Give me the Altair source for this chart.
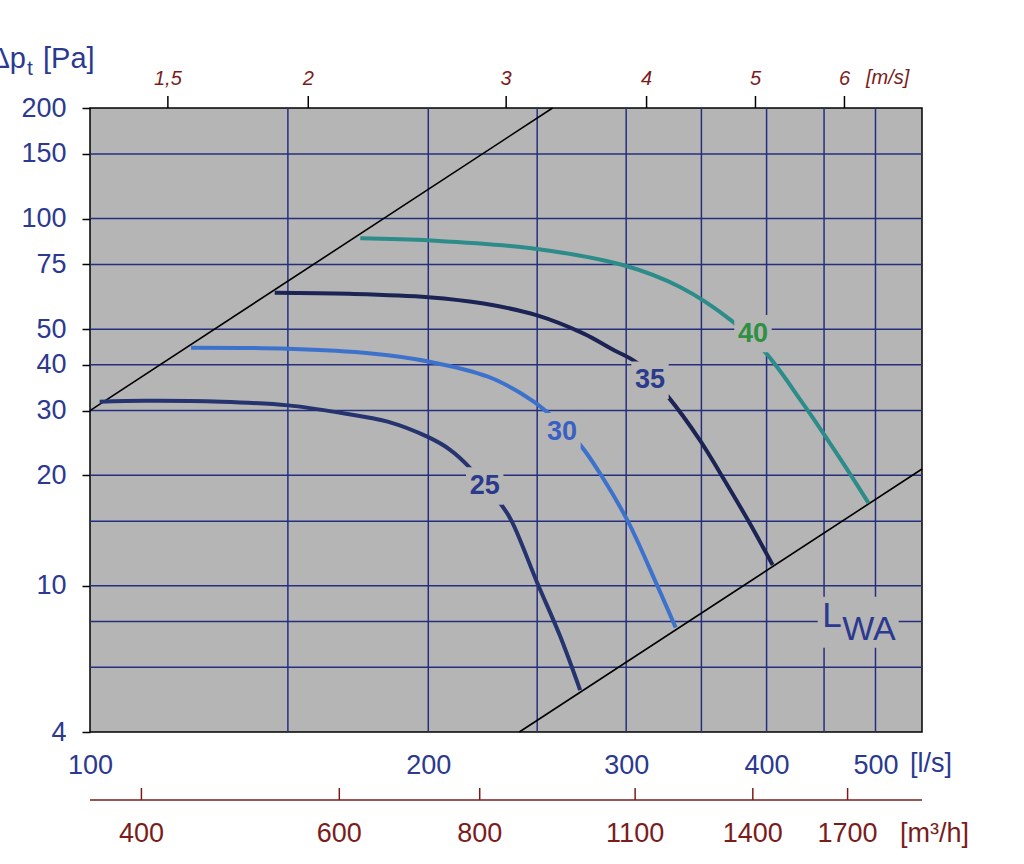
import altair as alt
import pandas as pd

# ---------------- data ----------------
K = 78.2  # l/s per m/s (duct velocity scale)

ls_ticks = [100, 200, 300, 400, 500]
pa_ticks = [4, 10, 20, 30, 40, 50, 75, 100, 150, 200]
grid_x = [150, 200, 250, 300, 350, 400, 450, 500]
grid_y = [6, 8, 10, 15, 20, 30, 40, 50, 75, 100, 150]
speeds = [1.5, 2, 3, 4, 5, 6]
speed_labels = ["1,5", "2", "3", "4", "5", "6"]
m3h = [400, 600, 800, 1100, 1400, 1700]

# limit lines (Q in l/s, dp in Pa)
upper_q = [100, 258]
upper_p = [30, 200]
lower_q = [241, 550]
lower_p = [4, 20.8]

# sound power curves L_WA
q25 = [102, 112, 131, 150, 167, 184, 200, 209, 218, 224, 231, 237, 250, 262, 273]
p25 = [31.7, 31.9, 31.7, 31.0, 29.6, 28.0, 25.4, 23.5, 20.9, 18.8, 17.0, 15.1, 10.2, 7.3, 5.2]
q30 = [123, 150, 178, 201, 226, 242, 255, 273, 285, 301, 318, 332]
p30 = [44.5, 44.2, 42.9, 40.7, 37.1, 33.4, 29.8, 24.2, 20.0, 15.0, 10.4, 7.7]
q35 = [146, 170, 200, 224, 250, 275, 291, 307, 327, 349, 364, 385, 405]
p35 = [62.8, 62.4, 61.1, 58.7, 54.5, 48.6, 44.2, 40.4, 32.7, 24.9, 20.2, 15.1, 11.4]
q40 = [174, 201, 247, 299, 335, 372, 399, 429, 466, 493]
p40 = [88.4, 87.2, 83.0, 74.5, 65.1, 52.8, 43.2, 32.0, 22.0, 16.8]

curve_names = ["25", "30", "35", "40"]
label_q = [224.5, 263, 315, 389]
label_p = [18.7, 26.3, 36.3, 48.6]

lwa_q = [482.6]
lwa_p = [7.96]

# ---------------- styles ----------------
GRAY = "#b5b5b5"
NAVY = "#262f7d"
TXT = "#2b3990"
RED = "#7b1c1c"
FONT = "Liberation Sans"
line_colors = ["#25336f", "#3d72cc", "#1c2455", "#2b8c8a"]
text_colors = ["#2a3a8c", "#3a60c4", "#2a3a8c", "#2e9040"]

x_scale = alt.Scale(type="log", domain=[100, 550], nice=False)
y_scale = alt.Scale(type="log", domain=[4, 200], nice=False)

# ---------------- tables ----------------
gx_df = pd.DataFrame({"q": grid_x})
gy_df = pd.DataFrame({"p": grid_y})
lim_df = pd.DataFrame({
    "q": upper_q + lower_q,
    "p": upper_p + lower_p,
    "seg": ["u"] * len(upper_q) + ["l"] * len(lower_q),
})
rows = []
for name, qs, ps in [("25", q25, p25), ("30", q30, p30), ("35", q35, p35), ("40", q40, p40)]:
    for i, (q, p) in enumerate(zip(qs, ps)):
        rows.append({"curve": name, "q": q, "p": p, "i": i})
cur_df = pd.DataFrame(rows)
lab_df = pd.DataFrame({"curve": curve_names, "q": label_q, "p": label_p})
spd_df = pd.DataFrame({"v": speeds, "lab": speed_labels})
m3_df = pd.DataFrame({"m": m3h})
one_df = pd.DataFrame({"k": [0]})
lwa_df = pd.DataFrame({"q": lwa_q, "p": lwa_p})

X = lambda f="q:Q", **kw: alt.X(f, scale=x_scale, **kw)
Y = lambda f="p:Q", **kw: alt.Y(f, scale=y_scale, **kw)

LABEL_SIZE = 27

# vertical grid + the main x axis
vgrid = alt.Chart(gx_df).mark_rule(color=NAVY, strokeWidth=1.5).encode(
    x=X(axis=alt.Axis(values=ls_ticks, title=None, ticks=False, domain=False, grid=False,
                      labelFontSize=LABEL_SIZE, labelColor=TXT, labelFont=FONT,
                      labelBaseline="alphabetic", labelPadding=41, labelFlush=False,
                      labelOverlap=False))
)
hgrid = alt.Chart(gy_df).mark_rule(color=NAVY, strokeWidth=1.5).encode(
    y=Y(axis=alt.Axis(values=pa_ticks, title=None, tickSize=8, tickColor="black", tickWidth=1.5,
                      domain=False, grid=False, labelFontSize=LABEL_SIZE, labelColor=TXT,
                      labelFont=FONT, labelPadding=16, labelFlush=False, labelOverlap=False))
)

limits = alt.Chart(lim_df).mark_line(color="black", strokeWidth=1.6).encode(
    x=X(axis=None), y=Y(axis=None), detail="seg:N")

curves = alt.Chart(cur_df).mark_line(strokeWidth=4, interpolate="catmull-rom").encode(
    x=X(axis=None), y=Y(axis=None), order="i:Q",
    color=alt.Color("curve:N", scale=alt.Scale(domain=curve_names, range=line_colors), legend=None))

boxes = alt.Chart(lab_df).mark_square(size=1400, color=GRAY, opacity=1, strokeWidth=0).encode(
    x=X(axis=None), y=Y(axis=None))

labels = alt.Chart(lab_df).mark_text(fontSize=27, fontWeight="bold", font=FONT, baseline="middle").encode(
    x=X(axis=None), y=Y(axis=None), text="curve:N",
    color=alt.Color("curve:N", scale=alt.Scale(domain=curve_names, range=text_colors), legend=None))

# top velocity axis (m/s)
top_ticks = alt.Chart(spd_df).transform_calculate(q=f"datum.v*{K}").mark_rule(
    color="black", strokeWidth=1.5).encode(x=X(axis=None), y=alt.value(-12), y2=alt.value(0))
top_labels = alt.Chart(spd_df).transform_calculate(q=f"datum.v*{K}").mark_text(
    fontSize=20, fontStyle="italic", fontWeight="normal", font=FONT, color=RED,
    baseline="alphabetic").encode(x=X(axis=None), y=alt.value(-23), text="lab:N")

# m3/h axis below
m3_line = alt.Chart(one_df).mark_rule(color=RED, strokeWidth=1.5).encode(
    x=alt.value(0), x2=alt.value(832), y=alt.value(692))
m3_ticks = alt.Chart(m3_df).transform_calculate(q="datum.m/3.6").mark_rule(
    color=RED, strokeWidth=1.5).encode(x=X(axis=None), y=alt.value(680), y2=alt.value(692))
m3_labels = alt.Chart(m3_df).transform_calculate(q="datum.m/3.6").mark_text(
    fontSize=LABEL_SIZE, font=FONT, fontWeight="normal", color=RED, baseline="alphabetic").encode(
    x=X(axis=None), y=alt.value(734), text="m:Q")

def txt(s, x, y, size=LABEL_SIZE, color=TXT, style="normal", align="left"):
    return alt.Chart(one_df).mark_text(text=s, fontSize=size, font=FONT, color=color,
                                       fontStyle=style, fontWeight="normal", align=align,
                                       baseline="alphabetic").encode(
        x=alt.value(x), y=alt.value(y))

units = [
    txt("[l/s]", 820, 664),
    txt("[m³/h]", 810, 734, color=RED),
    txt("[m/s]", 776, -24, size=20, color=RED, style="italic"),
    txt("Δp", -64, -40, size=29, align="right"),
    txt("t", -63, -33, size=21),
    txt("[Pa]", -47, -40, size=29),
]

# L_WA legend label
lwa_box = alt.Chart(lwa_df).mark_point(
    shape="M-1,-0.63L1,-0.63L1,0.63L-1,0.63Z", size=6561, filled=True, fill=GRAY, opacity=1,
    strokeWidth=0).encode(x=X(axis=None), y=Y(axis=None))
lwa_L = alt.Chart(lwa_df).mark_text(text="L", fontSize=35, font=FONT, color=TXT, align="left",
                                    baseline="alphabetic", dx=-36, dy=5).encode(x=X(axis=None), y=Y(axis=None))
lwa_WA = alt.Chart(lwa_df).mark_text(text="WA", fontSize=34, font=FONT, color=TXT, align="left",
                                     baseline="alphabetic", dx=-16, dy=18).encode(x=X(axis=None), y=Y(axis=None))

chart = alt.layer(
    vgrid, hgrid, limits, curves, boxes, labels,
    top_ticks, top_labels, m3_line, m3_ticks, m3_labels,
    *units, lwa_box, lwa_L, lwa_WA,
).resolve_scale(color="independent").resolve_axis(x="independent", y="independent").properties(
    width=832, height=624,
    autosize=alt.AutoSizeParams(type="none"),
    padding={"left": 90, "top": 108, "right": 102, "bottom": 132},
    background="white",
).configure_view(fill=GRAY, stroke="black", strokeWidth=1.5)

chart.save("out.html", embed_options={"renderer": "svg", "actions": False})
